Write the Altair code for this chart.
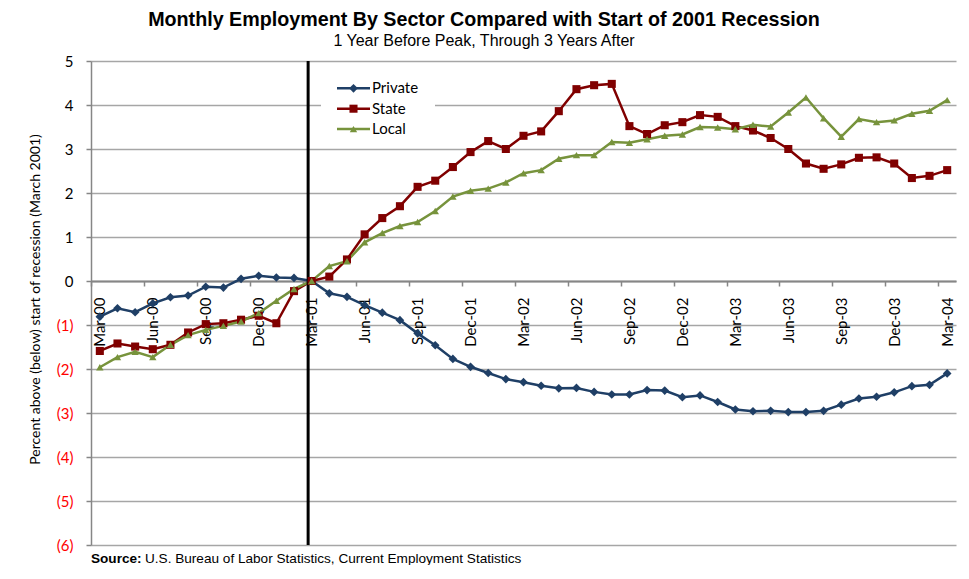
import altair as alt
import pandas as pd

# ---------------- data ----------------
months = [
    "Mar-00", "Apr-00", "May-00", "Jun-00", "Jul-00", "Aug-00", "Sep-00", "Oct-00", "Nov-00", "Dec-00",
    "Jan-01", "Feb-01", "Mar-01", "Apr-01", "May-01", "Jun-01", "Jul-01", "Aug-01", "Sep-01", "Oct-01",
    "Nov-01", "Dec-01", "Jan-02", "Feb-02", "Mar-02", "Apr-02", "May-02", "Jun-02", "Jul-02", "Aug-02",
    "Sep-02", "Oct-02", "Nov-02", "Dec-02", "Jan-03", "Feb-03", "Mar-03", "Apr-03", "May-03", "Jun-03",
    "Jul-03", "Aug-03", "Sep-03", "Oct-03", "Nov-03", "Dec-03", "Jan-04", "Feb-04", "Mar-04",
]

private = [
    -0.81, -0.62, -0.71, -0.51, -0.37, -0.33, -0.13, -0.15, 0.05, 0.12, 0.08, 0.07, 0.00,
    -0.28, -0.36, -0.55, -0.72, -0.89, -1.19, -1.46, -1.77, -1.95, -2.09, -2.23, -2.30, -2.38,
    -2.44, -2.43, -2.52, -2.58, -2.58, -2.48, -2.49, -2.64, -2.60, -2.75, -2.92,
    -2.96, -2.95, -2.98, -2.98, -2.95, -2.81, -2.67, -2.63, -2.53, -2.39, -2.36, -2.10,
]
state = [
    -1.59, -1.42, -1.49, -1.55, -1.45, -1.17, -0.98, -0.96, -0.88, -0.79, -0.96, -0.23, 0.00,
    0.10, 0.49, 1.06, 1.43, 1.70, 2.14, 2.28, 2.59, 2.93, 3.18, 3.00, 3.30, 3.40,
    3.86, 4.36, 4.45, 4.48, 3.52, 3.34, 3.54, 3.61, 3.77, 3.73, 3.52,
    3.42, 3.25, 3.00, 2.67, 2.55, 2.65, 2.80, 2.81, 2.67, 2.34, 2.39, 2.52,
]
local = [
    -1.96, -1.73, -1.61, -1.73, -1.45, -1.23, -1.11, -1.02, -0.92, -0.73, -0.45, -0.18, 0.00,
    0.34, 0.45, 0.88, 1.09, 1.25, 1.34, 1.59, 1.92, 2.05, 2.10, 2.24, 2.45, 2.52,
    2.78, 2.86, 2.86, 3.16, 3.14, 3.22, 3.30, 3.33, 3.50, 3.49, 3.45,
    3.55, 3.51, 3.83, 4.17, 3.70, 3.28, 3.68, 3.61, 3.65, 3.80, 3.87, 4.11,
]

series_names = ["Private", "State", "Local"]
series_values = [private, state, local]
y_ticks = [-6, -5, -4, -3, -2, -1, 0, 1, 2, 3, 4, 5]
recession_marker = [11.8]  # drawn line sits just left of the Mar-01 point

title_text = "Monthly Employment By Sector Compared with Start of 2001 Recession"
subtitle_text = "1 Year Before Peak, Through 3 Years After"
y_title = "Percent above (below) start of recession (March 2001)"
source_bold = "Source:"
source_rest = "U.S. Bureau of Labor Statistics, Current Employment Statistics"

# ---------------- styling / layout ----------------
W, H = 865, 484
N = len(months)
STEP = W / N
HALF = STEP / 2
Y_MIN, Y_MAX = y_ticks[0], y_ticks[-1]
colors = ["#1F3F66", "#800000", "#77933C"]
shapes = ["diamond", "square", "triangle-up"]
sizes = [75, 55, 90]
AX_GRAY = "#868686"
GRID_GRAY = "#A6A6A6"
LABEL_FONT = "Lato"
TITLE_FONT = "Liberation Sans"


def px_to_idx(px):  # plot-relative pixel -> category index
    return px / STEP - 0.5


def py_to_val(py):  # plot-relative pixel -> value
    return Y_MAX - py / H * (Y_MAX - Y_MIN)


rows = []
for name, vals in zip(series_names, series_values):
    for i, (m, v) in enumerate(zip(months, vals)):
        rows.append({"idx": i, "month": m, "series": name, "value": v})
df = pd.DataFrame(rows)

# legend geometry (plot-relative pixels converted to data units)
leg_rows = []
for k, name in enumerate(series_names):
    py = 27.3 + k * 20.4
    leg_rows.append({
        "series": name,
        "lx1": px_to_idx(246), "lx2": px_to_idx(279), "lxm": px_to_idx(262.5),
        "lxt": px_to_idx(281), "ly": py_to_val(py),
    })
df_leg = pd.DataFrame(leg_rows)
df_box = pd.DataFrame([{"bx1": px_to_idx(230), "bx2": px_to_idx(344),
                        "by1": py_to_val(12), "by2": py_to_val(80)}])

x_scale = alt.Scale(domain=[-0.5, N - 0.5], nice=False, zero=False)
y_scale = alt.Scale(domain=[Y_MIN, Y_MAX], nice=False, zero=False)
color_scale = alt.Scale(domain=series_names, range=colors)

label_arr = "[" + ",".join("'%s'" % m for m in months) + "]"
zero_offset = -(H * (0 - Y_MIN) / (Y_MAX - Y_MIN))

x_axis = alt.Axis(
    values=list(range(0, N, 3)), labelExpr=label_arr + "[datum.value]",
    tickOffset=-HALF, labelOffset=HALF, labelAngle=270, labelAlign="right",
    labelBaseline="middle", labelPadding=11, labelFlush=False, labelOverlap=False,
    labelFont=LABEL_FONT, labelFontSize=15, labelColor="#000000",
    tickSize=5, tickColor=AX_GRAY, tickWidth=1.5,
    domainColor=AX_GRAY, domainWidth=2, offset=zero_offset, grid=False, title=None,
)
y_axis = alt.Axis(
    values=y_ticks,
    labelExpr="datum.value < 0 ? '(' + format(-datum.value, 'd') + ')' : format(datum.value, 'd')",
    labelColor={"condition": {"test": "datum.value < 0", "value": "#FF0000"}, "value": "#000000"},
    labelFont=LABEL_FONT, labelFontSize=15, labelPadding=13, labelFlush=False,
    tickSize=5, tickColor=AX_GRAY, tickWidth=1.5,
    domainColor=AX_GRAY, domainWidth=1.5,
    grid=True, gridColor=GRID_GRAY, gridWidth=1.3,
    title=y_title, titleFont=LABEL_FONT, titleFontSize=14, titleFontWeight="normal",
    titleColor="#000000", titleAngle=270, titleAlign="center", titleBaseline="middle",
    titleX=-56, titleY=238,
)


def X(field):
    return alt.X(field, scale=x_scale, axis=x_axis)


def Y(field):
    return alt.Y(field, scale=y_scale, axis=y_axis)


color_enc = alt.Color("series:N", scale=color_scale, legend=None)
shape_enc = alt.Shape("series:N", scale=alt.Scale(domain=series_names, range=shapes), legend=None)
size_enc = alt.Size("series:N", scale=alt.Scale(domain=series_names, range=sizes), legend=None)

base = alt.Chart(df)
lines = base.mark_line(strokeWidth=2.5).encode(
    x=X("idx:Q"), y=Y("value:Q"), color=color_enc, detail="series:N",
    order="idx:Q",
)
points = base.mark_point(filled=True, opacity=1).encode(
    x=X("idx:Q"), y=Y("value:Q"), color=color_enc, shape=shape_enc, size=size_enc,
    tooltip=["series:N", "month:N", "value:Q"],
)
rec_rule = alt.Chart(pd.DataFrame({"rec": recession_marker})).mark_rule(
    color="#000000", strokeWidth=3
).encode(x=X("rec:Q"))

leg_box = alt.Chart(df_box).mark_rect(fill="#FFFFFF").encode(
    x=X("bx1:Q"), x2="bx2", y=Y("by1:Q"), y2="by2"
)
leg_lines = alt.Chart(df_leg).mark_rule(strokeWidth=2.5).encode(
    x=X("lx1:Q"), x2="lx2", y=Y("ly:Q"), color=color_enc
)
leg_pts = alt.Chart(df_leg).mark_point(filled=True, opacity=1).encode(
    x=X("lxm:Q"), y=Y("ly:Q"), color=color_enc, shape=shape_enc, size=size_enc
)
leg_text = alt.Chart(df_leg).mark_text(
    align="left", baseline="middle", font=LABEL_FONT, fontSize=15, color="#000000"
).encode(x=X("lxt:Q"), y=Y("ly:Q"), text="series:N")

src1 = alt.Chart(pd.DataFrame({"t": [source_bold]})).mark_text(
    align="left", baseline="alphabetic", font=TITLE_FONT, fontSize=13.6,
    fontWeight="bold", color="#000000"
).encode(x=alt.value(0), y=alt.value(502), text="t:N")
src2 = alt.Chart(pd.DataFrame({"t": [source_rest]})).mark_text(
    align="left", baseline="alphabetic", font=TITLE_FONT, fontSize=13.6, color="#000000"
).encode(x=alt.value(54), y=alt.value(502), text="t:N")

chart = alt.layer(
    leg_box, lines, rec_rule, points, leg_lines, leg_pts, leg_text, src1, src2
).properties(
    width=W, height=H,
    autosize=alt.AutoSizeParams(type="none"),
    padding={"left": 83, "top": 53, "right": 5, "bottom": 20},
    background="#FFFFFF",
    title=alt.TitleParams(
        text=title_text, subtitle=subtitle_text, anchor="middle", dx=-39.5,
        font=TITLE_FONT, fontSize=19.7, fontWeight="bold", color="#000000",
        subtitleFont=TITLE_FONT, subtitleFontSize=16, subtitleColor="#000000",
        subtitlePadding=3, offset=5,
    ),
).configure_view(stroke=None)

chart.save("out.html", embed_options={"renderer": "svg", "actions": False})
